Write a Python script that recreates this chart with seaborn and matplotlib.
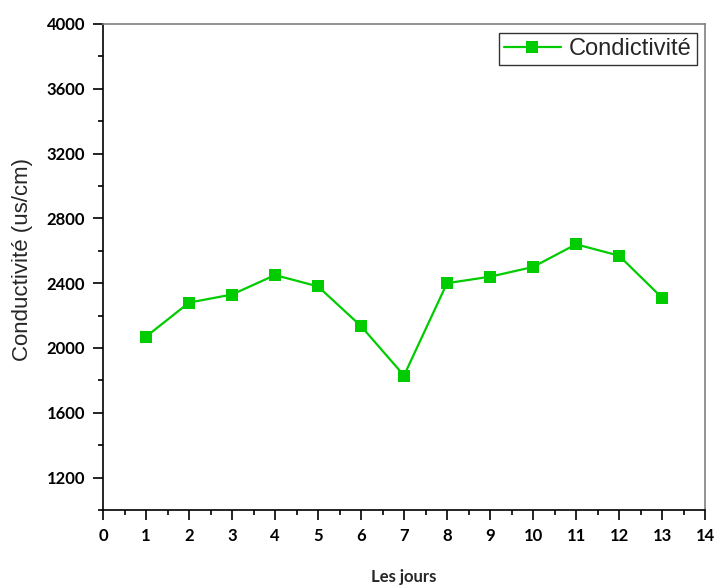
import matplotlib
matplotlib.use("Agg")
import matplotlib.pyplot as plt
import seaborn as sns
import pandas as pd
from matplotlib.ticker import MultipleLocator

days = [1, 2, 3, 4, 5, 6, 7, 8, 9, 10, 11, 12, 13]
conductivity = [2070, 2280, 2330, 2450, 2380, 2135, 1830, 2400, 2440, 2500, 2640, 2570, 2310]
x_ticks = list(range(0, 15))
y_ticks = [1200, 1600, 2000, 2400, 2800, 3200, 3600, 4000]

df = pd.DataFrame({"day": days, "cond": conductivity})

sns.set_theme(style="white")
plt.rcParams['font.family'] = ['Liberation Sans', 'DejaVu Sans']

fig = plt.figure(figsize=(7.14, 5.88), dpi=100)
ax = fig.add_axes([0.1443, 0.1327, 0.8431, 0.8265])

green = "#00CC00"
sns.lineplot(data=df, x="day", y="cond", ax=ax, color=green, linewidth=1.6,
             marker="s", markersize=8, markeredgewidth=0, label="Condictivité")

ax.set_xlim(0, 14)
ax.set_ylim(1000, 4000)
ax.set_xticks(x_ticks)
ax.set_yticks(y_ticks)
ax.xaxis.set_minor_locator(MultipleLocator(0.5))
ax.yaxis.set_minor_locator(MultipleLocator(200))

tick_font = dict(family=['Lato', 'DejaVu Sans'], weight='bold', size=12)
ax.set_xticklabels([str(t) for t in x_ticks], **tick_font)
ax.set_yticklabels([str(t) for t in y_ticks], **tick_font)

ax.tick_params(axis='both', which='major', direction='out', length=7, width=1.2,
               colors='black', bottom=True, left=True, top=False, right=False, pad=6)
ax.tick_params(axis='both', which='minor', direction='out', length=3.5, width=1.2,
               colors='black', bottom=True, left=True, top=False, right=False)

for side in ['left', 'bottom']:
    ax.spines[side].set_color('black')
    ax.spines[side].set_linewidth(1.2)
for side in ['top', 'right']:
    ax.spines[side].set_color('#808080')
    ax.spines[side].set_linewidth(1.2)

ax.set_xlabel("Les jours", family=['Lato', 'DejaVu Sans'], weight='bold', size=12)
ax.xaxis.set_label_coords(0.5, -0.121)
ax.set_ylabel("Conductivité (us/cm)", family=['Liberation Sans', 'DejaVu Sans'], size=16)
ax.yaxis.set_label_coords(-0.117, 0.515)

leg = ax.legend(loc='upper right', frameon=True, fancybox=False, fontsize=17,
                borderpad=0.22, handlelength=2.4, handletextpad=0.34, borderaxespad=0,
                bbox_to_anchor=(0.986, 0.9815))
leg.get_frame().set_edgecolor('black')
leg.get_frame().set_linewidth(1.0)

fig.savefig("out.png", dpi=100)
